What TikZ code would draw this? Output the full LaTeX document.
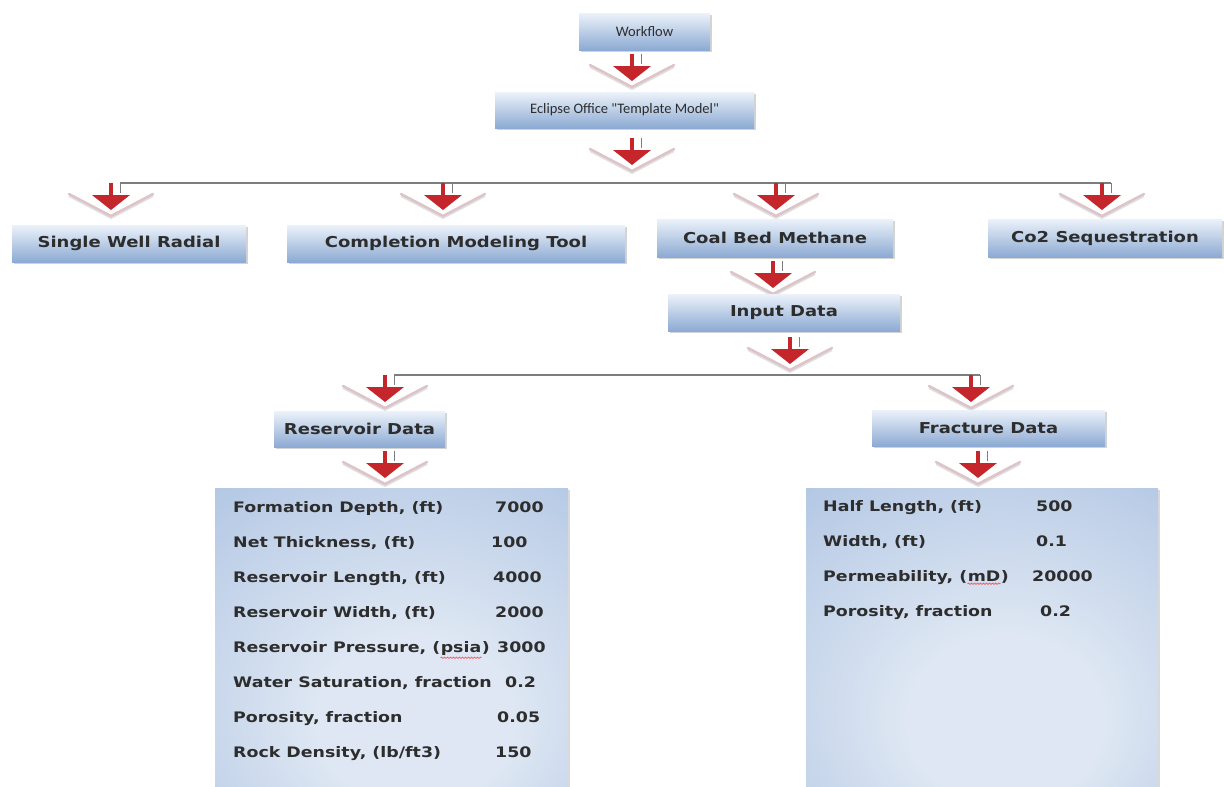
\documentclass[tikz,border=0pt]{standalone}
\usepackage{fontspec}
\setmainfont{DejaVu Sans}[FakeStretch=1.2]
\newfontfamily\calfont{Carlito}
\usetikzlibrary{positioning,shadows,decorations.pathmorphing}

\definecolor{boxtop}{RGB}{236,242,250}
\definecolor{boxbot}{RGB}{140,170,211}
\definecolor{panelin}{RGB}{222,231,243}
\definecolor{panelmid}{RGB}{168,191,224}
\definecolor{panelout}{RGB}{138,168,211}
\definecolor{arrred}{RGB}{196,38,44}
\definecolor{chevpink}{RGB}{222,196,200}
\definecolor{linegray}{RGB}{125,125,125}
\definecolor{txtgray}{RGB}{45,45,45}

\pgfdeclareradialshading{panelshade}{\pgfpoint{4bp}{-16bp}}{%
  color(0bp)=(panelin); color(14bp)=(panelin); color(50bp)=(panelmid); color(78bp)=(panelout)}

% red wavy underline of the spell checker
\newcommand\wavy[1]{\tikz[baseline=(s.base)]{\node[inner sep=0pt] (s) {#1};
  \draw[red!75, line width=0.6pt, decorate, decoration={snake, amplitude=0.7pt, segment length=3pt}]
    ([yshift=-2.5pt]s.south west) -- ([yshift=-2.5pt]s.south east);}}

\begin{document}
\begin{tikzpicture}[x=1pt, y=-1pt,
  blbox/.style={
    rectangle,
    inner sep=0pt,
    top color=boxtop,
    bottom color=boxbot,
    drop shadow={shadow xshift=1.5pt, shadow yshift=-2pt, opacity=0.35},
    text=txtgray,
    font=\bfseries\fontsize{15}{18}\selectfont,
  },
  smallbox/.style={blbox, font=\calfont\fontsize{14.5}{16}\selectfont},
  panel/.style={rectangle, inner sep=0pt, anchor=north west, shading=panelshade,
    drop shadow={shadow xshift=2pt, shadow yshift=-2pt, opacity=0.3}},
  row/.style={anchor=base west, inner sep=0pt, text=txtgray, font=\bfseries\fontsize{14.5}{17}\selectfont},
  tree/.style={draw=linegray, line width=1.4pt},
  chev/.pic={
    \draw[black!12, line width=2pt, line join=round] (-42,1) -- (0,23) -- (42,1);
    \draw[chevpink, line width=2.5pt, line join=round, line cap=round] (-42,-1) -- (0,21) -- (42,-1);
    \fill[arrred] (-2.2,-12) rectangle (2.2,1);
    \fill[arrred] (-19,0) -- (19,0) -- (0,15) -- cycle;
    \draw[linegray, line width=1pt] (9,-12) -- (9,-2);
  }]

  \useasboundingbox (0,0) rectangle (1224,787);

  % top of the chart
  \node[smallbox, minimum width=131, minimum height=37] (wf) at (644.5,31.5) {Workflow};
  \node[smallbox, minimum width=259, minimum height=36] (ecl) at (624.5,110) {Eclipse Office "Template Model"};

  \pic at (632,66) {chev};
  \pic at (632,150) {chev};

  % first branching
  \coordinate (br1l) at (120,183);
  \coordinate (br1r) at (1111,183);
  \draw[tree] (br1l) -- (br1r);

  \pic at (111,195) {chev};
  \pic at (443,195) {chev};
  \pic at (776,195) {chev};
  \pic at (1102,195) {chev};

  \node[blbox, minimum width=234, minimum height=37] (swr) at (129,243.5) {Single Well Radial};
  \node[blbox, minimum width=338, minimum height=37] (cmt) at (456,243.5) {Completion Modeling Tool};
  \node[blbox, minimum width=236, minimum height=38] (cbm) at (775,238) {Coal Bed Methane};
  \node[blbox, minimum width=234, minimum height=38] (co2) at (1105,238) {Co2 Sequestration};

  \pic at (773,273) {chev};
  \node[blbox, minimum width=232, minimum height=37] (inp) at (784,312.5) {Input Data};
  \pic at (790,349) {chev};

  % second branching
  \coordinate (br2l) at (394,375);
  \coordinate (br2r) at (980,375);
  \draw[tree] (br2l) -- (br2r);

  \pic at (385,387) {chev};
  \pic at (971,387) {chev};

  \node[blbox, minimum width=171, minimum height=36] (res) at (359.5,429) {Reservoir Data};
  \node[blbox, minimum width=233, minimum height=36] (frac) at (988.5,428) {Fracture Data};

  \pic at (385,463) {chev};
  \pic at (978,463) {chev};

  % data panels
  \node[panel, minimum width=353, minimum height=304] (rpan) at (215,488) {};
  \node[panel, minimum width=352, minimum height=304] (fpan) at (806,488) {};

  \foreach \lab/\val/\vx [count=\i] in {
      {Formation Depth, (ft)}/7000/495,
      {Net Thickness, (ft)}/100/491,
      {Reservoir Length, (ft)}/4000/493,
      {Reservoir Width, (ft)}/2000/495,
      {Reservoir Pressure, (\wavy{psia})}/3000/497,
      {Water Saturation, fraction}/0.2/505,
      {Porosity, fraction}/0.05/497,
      {Rock Density, (lb/ft3)}/150/495}
  {
    \node[row] (rl\i) at (233,477+35*\i) {\lab};
    \node[row] (rv\i) at (\vx,477+35*\i) {\val};
  }

  \foreach \lab/\val/\vx [count=\i] in {
      {Half Length, (ft)}/500/1036,
      {Width, (ft)}/0.1/1036,
      {Permeability, (\wavy{mD})}/20000/1032,
      {Porosity, fraction}/0.2/1040}
  {
    \node[row] (fl\i) at (823,476+35*\i) {\lab};
    \node[row] (fv\i) at (\vx,476+35*\i) {\val};
  }

\end{tikzpicture}
\end{document}
